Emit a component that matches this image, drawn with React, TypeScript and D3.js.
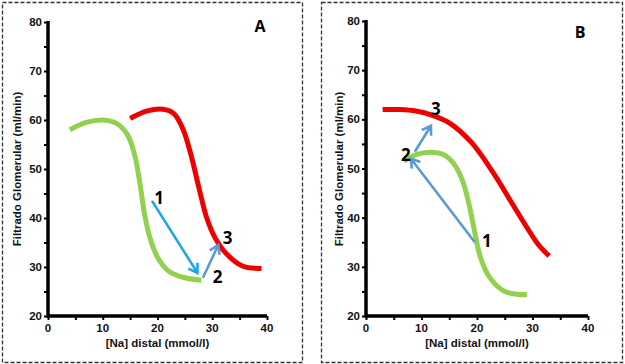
import React, { useEffect, useRef } from 'react';
import * as d3 from 'd3';

// panel A
const greenA: [number, number][] = [
  [4, 58], [7, 59.5], [10, 60], [12.5, 59.3], [14.5, 57], [15.8, 53], [16.8, 47], [17.6, 41],
  [18.6, 36], [20, 32], [22, 29.2], [25, 27.8], [28, 27.3],
];
const redA: [number, number][] = [
  [15, 60.3], [18, 61.8], [21, 62.2], [23, 61.3], [24.7, 58], [26.2, 52.5], [27.6, 46], [29, 40],
  [30.5, 36], [32.5, 32.8], [35.5, 30.2], [39, 29.7],
];
// panel B
const greenB: [number, number][] = [
  [6.8, 51.5], [9, 52.8], [11.5, 53.3], [14, 52.8], [15.8, 51], [17.4, 47.5], [18.6, 42.5],
  [19.6, 37], [20.6, 32], [22.3, 27.8], [25, 25], [29, 24.3],
];
const redB: [number, number][] = [
  [3, 62], [6, 62], [9, 61.7], [12, 60.8], [15, 59.3], [19, 55.3], [23, 49], [26, 43.5],
  [29, 38], [31, 34.6], [33, 32.2],
];

// arrows in data units
const arrowsA = [
  { from: [19, 43.5], to: [27.3, 28.8], color: '#1ea8e2' },
  { from: [28.3, 27.8], to: [31.1, 34.5], color: '#5b9bd5' },
];
const arrowsB = [
  { from: [19.6, 35], to: [8.1, 52], color: '#5b9bd5' },
  { from: [8.8, 53.4], to: [11.7, 58.7], color: '#5b9bd5' },
];
const labelsA = [
  { t: '1', x: 20.3, y: 44 },
  { t: '2', x: 31, y: 28 },
  { t: '3', x: 32.8, y: 36 },
];
const labelsB = [
  { t: '1', x: 21.8, y: 35.2 },
  { t: '2', x: 7.2, y: 52.8 },
  { t: '3', x: 12.6, y: 62.1 },
];

const xTicks = [0, 10, 20, 30, 40];
const yTicks = [20, 30, 40, 50, 60, 70, 80];

const panels = [
  { name: 'A', box: [2, 2, 302, 362], xr: [48, 267], yr: [316, 22], green: greenA, red: redA, arrows: arrowsA, labels: labelsA, letter: [260, 32], ytitleX: 17 },
  { name: 'B', box: [321, 2, 622, 362], xr: [366, 588], yr: [316, 21], green: greenB, red: redB, arrows: arrowsB, labels: labelsB, letter: [580, 38], ytitleX: 339 },
];

const App = () => {
  const ref = useRef<SVGSVGElement>(null);

  useEffect(() => {
    const svg = d3.select(ref.current);
    svg.selectAll('*').remove();

    panels.forEach(p => {
      const g = svg.append('g');
      const [bx0, by0, bx1, by1] = p.box;
      g.append('rect')
        .attr('x', bx0 + 0.5).attr('y', by0 + 0.5)
        .attr('width', bx1 - bx0).attr('height', by1 - by0)
        .attr('fill', 'none').attr('stroke', '#333').attr('stroke-width', 1.3)
        .attr('stroke-dasharray', '4,2');

      const x = d3.scaleLinear().domain([0, 40]).range(p.xr);
      const y = d3.scaleLinear().domain([20, 80]).range(p.yr);

      const font = '"Liberation Sans", Arial, sans-serif';

      // axes (ticks from d3, thick frame drawn on top)
      const xAxis = g.append('g').attr('transform', `translate(0,${y(20)})`)
        .call(d3.axisBottom(x).tickValues(d3.range(0, 41, 5)).tickSize(4).tickFormat(() => ''));
      xAxis.select('.domain').remove();
      xAxis.selectAll('line').attr('stroke', '#000').attr('stroke-width', 2);
      const yAxis = g.append('g').attr('transform', `translate(${x(0)},0)`)
        .call(d3.axisLeft(y).tickValues(d3.range(20, 81, 5)).tickSize(4).tickFormat(() => ''));
      yAxis.select('.domain').remove();
      yAxis.selectAll('line').attr('stroke', '#000').attr('stroke-width', 2);

      g.append('path')
        .attr('d', `M${x(0)},${y(80) - 1}V${y(20)}H${x(40)}`)
        .attr('fill', 'none').attr('stroke', '#000').attr('stroke-width', 3.5);

      g.selectAll('.xl').data(xTicks).join('text')
        .attr('x', d => x(d)).attr('y', y(20) + 16)
        .attr('text-anchor', 'middle').attr('font-family', font).attr('font-weight', 'bold')
        .attr('font-size', 11.5).attr('fill', '#111').text(d => d);
      g.selectAll('.yl').data(yTicks).join('text')
        .attr('x', x(0) - 6).attr('y', d => y(d) + 4)
        .attr('text-anchor', 'end').attr('font-family', font).attr('font-weight', 'bold')
        .attr('font-size', 11.5).attr('fill', '#111').text(d => d);

      g.append('text')
        .attr('x', (p.xr[0] + p.xr[1]) / 2).attr('y', 347)
        .attr('text-anchor', 'middle').attr('font-family', font).attr('font-weight', 'bold')
        .attr('font-size', 11.5).attr('fill', '#111').text('[Na] distal (mmol/l)');
      g.append('text')
        .attr('transform', `translate(${p.ytitleX + 4},169) rotate(-90)`)
        .attr('text-anchor', 'middle').attr('font-family', font).attr('font-weight', 'bold')
        .attr('font-size', 11.5).attr('fill', '#111').text('Filtrado Glomerular (ml/min)');

      // curves
      const line = d3.line<[number, number]>()
        .x(d => x(d[0])).y(d => y(d[1]))
        .curve(d3.curveCatmullRom.alpha(0.5));
      g.append('path').attr('d', line(p.green)).attr('fill', 'none')
        .attr('stroke', '#92d050').attr('stroke-width', 5);
      g.append('path').attr('d', line(p.red)).attr('fill', 'none')
        .attr('stroke', '#ee0000').attr('stroke-width', 5);

      // arrows with open heads
      p.arrows.forEach(a => {
        const x1 = x(a.from[0]), y1 = y(a.from[1]);
        const x2 = x(a.to[0]), y2 = y(a.to[1]);
        const ang = Math.atan2(y2 - y1, x2 - x1);
        const hl = 10, ha = Math.PI / 5.5;
        const hx1 = x2 - hl * Math.cos(ang - ha), hy1 = y2 - hl * Math.sin(ang - ha);
        const hx2 = x2 - hl * Math.cos(ang + ha), hy2 = y2 - hl * Math.sin(ang + ha);
        g.append('path')
          .attr('d', `M${x1},${y1}L${x2},${y2}M${hx1},${hy1}L${x2},${y2}L${hx2},${hy2}`)
          .attr('fill', 'none').attr('stroke', a.color).attr('stroke-width', 2.6);
      });

      g.selectAll('.num').data(p.labels).join('text')
        .attr('x', d => x(d.x)).attr('y', d => y(d.y) + 6)
        .attr('text-anchor', 'middle').attr('font-family', '"Open Sans", sans-serif')
        .attr('font-weight', 'bold').attr('font-size', 17).attr('fill', '#000')
        .text(d => d.t);

      g.append('text')
        .attr('x', p.letter[0]).attr('y', p.letter[1])
        .attr('text-anchor', 'middle').attr('font-family', '"Open Sans", sans-serif')
        .attr('font-weight', 'bold').attr('font-size', 16).text(p.name);
    });
  }, []);

  return (
    <svg ref={ref} width={625} height={364}
      style={{ position: 'absolute', left: 0, top: 0, background: '#fff' }} />
  );
};

export default App;
